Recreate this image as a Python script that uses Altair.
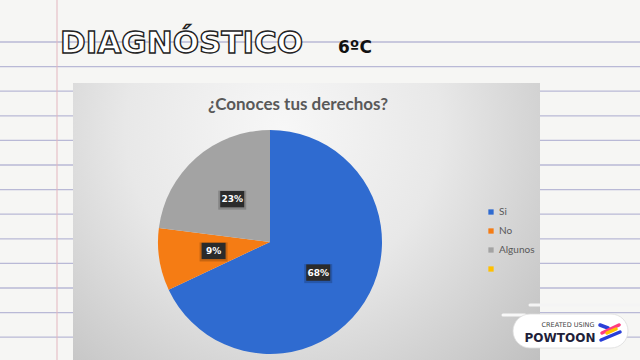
import math
import altair as alt
import pandas as pd

# ---- chart data ----
categories = ["Si", "No", "Algunos", " "]
values = [68, 9, 23, 0]
colors = ["#2f6bd0", "#f57c14", "#a3a3a3", "#ffc000"]

title_text = "¿Conoces tus derechos?"
header_text = "DIAGNÓSTICO"
grade_text = "6ºC"

W, H = 640, 360
CX, CY, R = 270, 242, 112
LABEL_FRAC = 0.51  # label distance as a fraction of the radius

pie = pd.DataFrame({"cat": categories, "val": values, "idx": list(range(len(categories)))})
pie["label"] = pie["val"].astype(str) + "%"
total = pie["val"].sum()
mid = (pie["val"].cumsum() - pie["val"] / 2) / total
pie["px"] = [LABEL_FRAC * math.sin(2 * math.pi * m) for m in mid]
pie["py"] = [-LABEL_FRAC * math.cos(2 * math.pi * m) for m in mid]

# ---- decorative notebook paper ----
paper = pd.DataFrame({"y": [42 + 24.6 * i for i in range(13)]})
lines = alt.Chart(paper).mark_rule(color="#b9b9d6", strokeWidth=1.3).encode(
    y=alt.Y("y:Q", scale=None), x=alt.value(0), x2=alt.value(W)
)
margin = alt.Chart(pd.DataFrame({"a": [0]})).mark_rule(color="#e3b6bf", strokeWidth=1).encode(
    x=alt.value(57), y=alt.value(0), y2=alt.value(H)
)

panel = alt.Chart(pd.DataFrame({"a": [0]})).mark_rect(
    fill={
        "gradient": "radial",
        "x1": 0.45, "y1": 0.3, "r1": 0,
        "x2": 0.45, "y2": 0.3, "r2": 0.75,
        "stops": [
            {"offset": 0, "color": "#f7f7f7"},
            {"offset": 0.45, "color": "#e8e8e8"},
            {"offset": 1, "color": "#bfbfbf"},
        ],
    }
).encode(x=alt.value(73), x2=alt.value(540), y=alt.value(83), y2=alt.value(H + 2))

title = alt.Chart(pd.DataFrame({"t": [title_text]})).mark_text(
    font="Lato", fontSize=17, fontWeight="bold", color="#595959", align="center", baseline="alphabetic"
).encode(text="t:N", x=alt.value(298), y=alt.value(110))

# ---- pie ----
theta = alt.Theta("val:Q", stack=True)
arcs = alt.Chart(pie).mark_arc(outerRadius=R).encode(
    theta=theta,
    order=alt.Order("idx:Q"),
    color=alt.Color(
        "cat:N",
        scale=alt.Scale(domain=categories, range=colors),
        legend=alt.Legend(
            title=None, orient="none", legendX=486, legendY=207,
            symbolType="square", symbolSize=28, symbolStrokeWidth=0,
            labelFontSize=10, labelFont="Lato", labelColor="#595959",
            rowPadding=9, labelOffset=3,
        ),
    ),
    x=alt.value(CX), y=alt.value(CY),
)

lab = alt.Chart(pie).transform_filter("datum.val > 0")
xpos = alt.X("px:Q", scale=alt.Scale(domain=[-1, 1], range=[CX - R, CX + R]), axis=None)
ypos = alt.Y("py:Q", scale=alt.Scale(domain=[-1, 1], range=[CY - R, CY + R]), axis=None)
box_shape = "M-1,-0.68L1,-0.68L1,0.68L-1,0.68Z"
shadow = lab.mark_point(shape=box_shape, filled=True, color="#000000", opacity=0.18, size=784, yOffset=1).encode(
    x=xpos, y=ypos
)
boxes = lab.mark_point(shape=box_shape, filled=True, color="#2b2b2b", opacity=1, size=576).encode(
    x=xpos, y=ypos
)
labels = lab.mark_text(
    fontSize=9, fontWeight="bold", font="DejaVu Sans", color="#ffffff",
    align="center", baseline="middle",
).encode(x=xpos, y=ypos, text="label:N")

# ---- header ----
hdr = pd.DataFrame({"t": [header_text]})
hdr_main = alt.Chart(hdr).mark_text(
    font="DejaVu Sans", fontSize=31, fontWeight="bold", fill="#ffffff", stroke="#222222",
    strokeWidth=1.4, align="left", baseline="alphabetic",
).encode(text="t:N", x=alt.value(60), y=alt.value(53))
grade = alt.Chart(pd.DataFrame({"t": [grade_text]})).mark_text(
    font="DejaVu Sans", fontSize=17, fontWeight="bold", color="#111111", align="left",
    baseline="alphabetic",
).encode(text="t:N", x=alt.value(338), y=alt.value(53))

# ---- Powtoon badge ----
one = pd.DataFrame({"a": [0]})
bar1 = alt.Chart(one).mark_rule(color="#f4f4f4", strokeWidth=3, strokeCap="round").encode(
    x=alt.value(530), x2=alt.value(W), y=alt.value(305)
)
bar2 = alt.Chart(one).mark_rule(color="#f8f8f8", strokeWidth=3, strokeCap="round").encode(
    x=alt.value(503), x2=alt.value(525), y=alt.value(315)
)
pill = alt.Chart(one).mark_rect(fill="#ffffff", stroke="#dcdcdc", strokeWidth=0.8, cornerRadius=17).encode(
    x=alt.value(513), x2=alt.value(628), y=alt.value(314), y2=alt.value(348)
)
created = alt.Chart(pd.DataFrame({"t": ["CREATED USING"]})).mark_text(
    font="DejaVu Sans", fontSize=6.5, color="#444444", align="center"
).encode(text="t:N", x=alt.value(568), y=alt.value(325))
powtoon = alt.Chart(pd.DataFrame({"t": ["POWTOON"]})).mark_text(
    font="DejaVu Sans", fontSize=12, fontWeight="bold", color="#1f1f3a", align="center"
).encode(text="t:N", x=alt.value(560), y=alt.value(338))
logo_parts = []
for x1, y1, x2, y2, c in [
    (600, 325, 608, 328, "#2a3fd8"),
    (602, 333, 619, 325, "#ff3d7f"),
    (607, 333, 616, 329, "#ffc400"),
    (601, 340, 620, 332, "#2a3fd8"),
]:
    logo_parts.append(
        alt.Chart(one).mark_rule(color=c, strokeWidth=3.5, strokeCap="round").encode(
            x=alt.value(x1), y=alt.value(y1), x2=alt.value(x2), y2=alt.value(y2)
        )
    )

chart = alt.layer(
    lines, margin, panel, title, arcs, shadow, boxes, labels, hdr_main, grade,
    bar1, bar2, pill, created, powtoon, *logo_parts
).resolve_scale(
    x="independent", y="independent"
).properties(
    width=W, height=H, autosize=alt.AutoSizeParams(type="none"), padding=0, background="#f6f6f4"
).configure_view(stroke=None)

chart.save("out.html", embed_options={"renderer": "svg", "actions": False})
